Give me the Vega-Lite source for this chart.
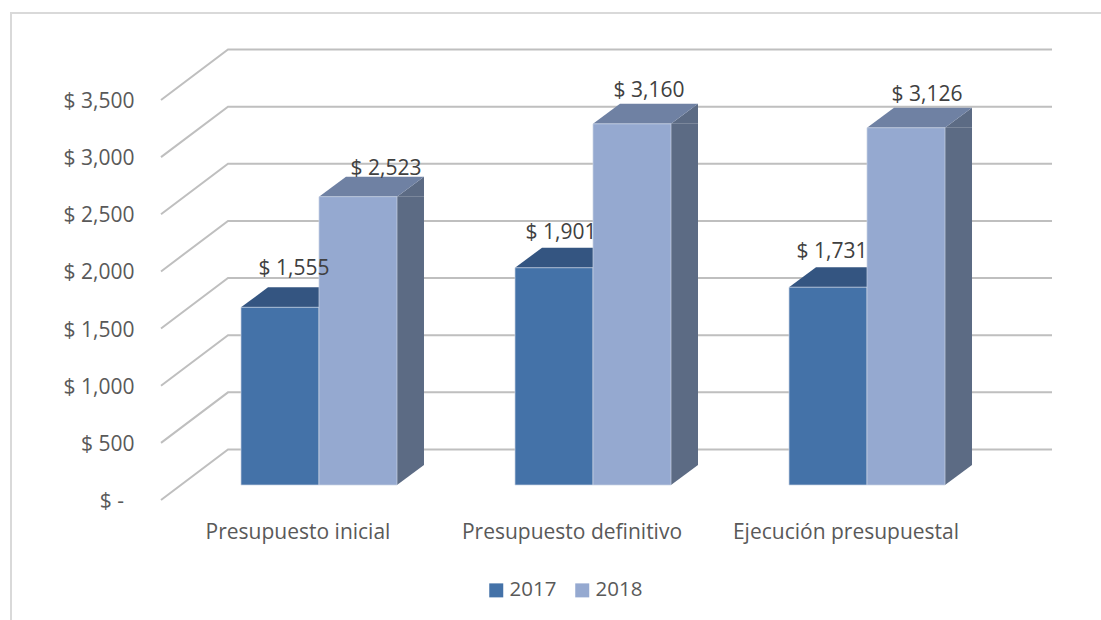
{"$schema":"https://vega.github.io/schema/vega-lite/v6.json","width":892,"height":400,"autosize":{"type":"none"},"padding":{"left":160,"top":85,"right":49,"bottom":135},"background":"white","config":{"view":{"stroke":null},"font":"Open Sans"},"datasets":{"main":[{"categoria":"Presupuesto inicial","anio":"2017","valor":1555,"etiqueta":"$ 1,555"},{"categoria":"Presupuesto inicial","anio":"2018","valor":2523,"etiqueta":"$ 2,523"},{"categoria":"Presupuesto definitivo","anio":"2017","valor":1901,"etiqueta":"$ 1,901"},{"categoria":"Presupuesto definitivo","anio":"2018","valor":3160,"etiqueta":"$ 3,160"},{"categoria":"Ejecución presupuestal","anio":"2017","valor":1731,"etiqueta":"$ 1,731"},{"categoria":"Ejecución presupuestal","anio":"2018","valor":3126,"etiqueta":"$ 3,126"}],"grid":[{"g":0},{"g":500},{"g":1000},{"g":1500},{"g":2000},{"g":2500},{"g":3000},{"g":3500}],"frame":[{"f":1}]},"data":{"name":"main"},"encoding":{"x":{"field":"categoria","type":"nominal","sort":null,"title":null,"scale":{"range":[22,844],"paddingInner":0.4307,"paddingOuter":0.2153},"axis":{"labelAngle":0,"labelOffset":-21,"labelPadding":36,"labelFontSize":21,"labelColor":"#595959","domain":false,"ticks":false,"labelFont":"Open Sans","labelLimit":300}},"xOffset":{"field":"anio","type":"nominal","scale":{"paddingInner":0,"paddingOuter":0}},"y":{"field":"valor","type":"quantitative","title":null,"scale":{"domain":[0,3500],"nice":false},"axis":{"values":[0,500,1000,1500,2000,2500,3000,3500],"labelExpr":"datum.value === 0 ? '$ -\u2002\u200b' : '$ ' + format(datum.value, ',')","labelOffset":16.5,"labelPadding":26,"labelFontSize":21,"labelColor":"#595959","domain":false,"ticks":false,"grid":false,"labelFont":"Open Sans"}}},"layer":[{"data":{"name":"grid"},"mark":{"type":"point","shape":"M-445,15L-378,-35.5L446,-35.5","size":4,"filled":false,"stroke":"#BFBFBF","strokeWidth":2,"opacity":1},"encoding":{"x":null,"xOffset":null,"y":{"field":"g","type":"quantitative","title":null,"scale":{"domain":[0,3500],"nice":false},"axis":{"values":[0,500,1000,1500,2000,2500,3000,3500],"labelExpr":"datum.value === 0 ? '$ -\u2002\u200b' : '$ ' + format(datum.value, ',')","labelOffset":16.5,"labelPadding":26,"labelFontSize":21,"labelColor":"#595959","domain":false,"ticks":false,"grid":false,"labelFont":"Open Sans"}}}},{"data":{"name":"frame"},"mark":{"type":"point","shape":"M-595,335L-595,-272L495,-272","size":4,"filled":false,"stroke":"#D9D9D9","strokeWidth":2,"opacity":1},"encoding":{"x":null,"xOffset":null,"y":null}},{"transform":[{"filter":"datum.anio === '2017'"}],"mark":{"type":"point","shape":"M-39,0L39,0L66,-20L-12,-20Z","size":4,"filled":true,"fill":"#345581","strokeWidth":0,"opacity":1}},{"transform":[{"filter":"datum.anio === '2018'"}],"mark":{"type":"rule","xOffset":91.5,"strokeWidth":27,"stroke":"#5C6B84"},"encoding":{"xOffset":null,"y2":{"datum":175}}},{"transform":[{"filter":"datum.anio === '2018'"}],"mark":{"type":"point","shape":"M39,0L66,-20L66,0Z","size":4,"filled":true,"fill":"#5C6B84","strokeWidth":0,"opacity":1}},{"data":{"name":"main"},"transform":[{"filter":"datum.anio === '2018'"}],"mark":{"type":"point","shape":"M39,0L66,-20L39,-20Z","size":4,"filled":true,"fill":"#5C6B84","strokeWidth":0,"opacity":1},"encoding":{"y":{"datum":0}}},{"transform":[{"filter":"datum.anio === '2018'"}],"mark":{"type":"point","shape":"M-39,0L39,0L66,-20L-12,-20Z","size":4,"filled":true,"fill":"#6F81A3","strokeWidth":0,"opacity":1}},{"mark":{"type":"bar","stroke":"#C9D3E4","strokeWidth":0.7},"encoding":{"color":{"field":"anio","type":"nominal","scale":{"domain":["2017","2018"],"range":["#4472A8","#95A9D0"]},"legend":{"title":null,"orient":"none","legendX":326,"legendY":495,"direction":"horizontal","symbolType":"square","symbolSize":196,"symbolStrokeWidth":0,"labelFontSize":20.5,"labelColor":"#595959","labelFont":"Open Sans","columnPadding":15,"labelOffset":3,"padding":0}}}},{"transform":[{"filter":"datum.etiqueta === '$ 1,555'"}],"mark":{"type":"text","dx":14,"dy":-38,"fontSize":21,"fill":"#404040","baseline":"middle"},"encoding":{"text":{"field":"etiqueta"}}},{"transform":[{"filter":"datum.etiqueta === '$ 2,523'"}],"mark":{"type":"text","dx":28,"dy":-28,"fontSize":21,"fill":"#404040","baseline":"middle"},"encoding":{"text":{"field":"etiqueta"}}},{"transform":[{"filter":"datum.etiqueta === '$ 1,901'"}],"mark":{"type":"text","dx":7,"dy":-35,"fontSize":21,"fill":"#404040","baseline":"middle"},"encoding":{"text":{"field":"etiqueta"}}},{"transform":[{"filter":"datum.etiqueta === '$ 3,160'"}],"mark":{"type":"text","dx":17,"dy":-33,"fontSize":21,"fill":"#404040","baseline":"middle"},"encoding":{"text":{"field":"etiqueta"}}},{"transform":[{"filter":"datum.etiqueta === '$ 1,731'"}],"mark":{"type":"text","dx":4,"dy":-35,"fontSize":21,"fill":"#404040","baseline":"middle"},"encoding":{"text":{"field":"etiqueta"}}},{"transform":[{"filter":"datum.etiqueta === '$ 3,126'"}],"mark":{"type":"text","dx":21,"dy":-33,"fontSize":21,"fill":"#404040","baseline":"middle"},"encoding":{"text":{"field":"etiqueta"}}}]}
